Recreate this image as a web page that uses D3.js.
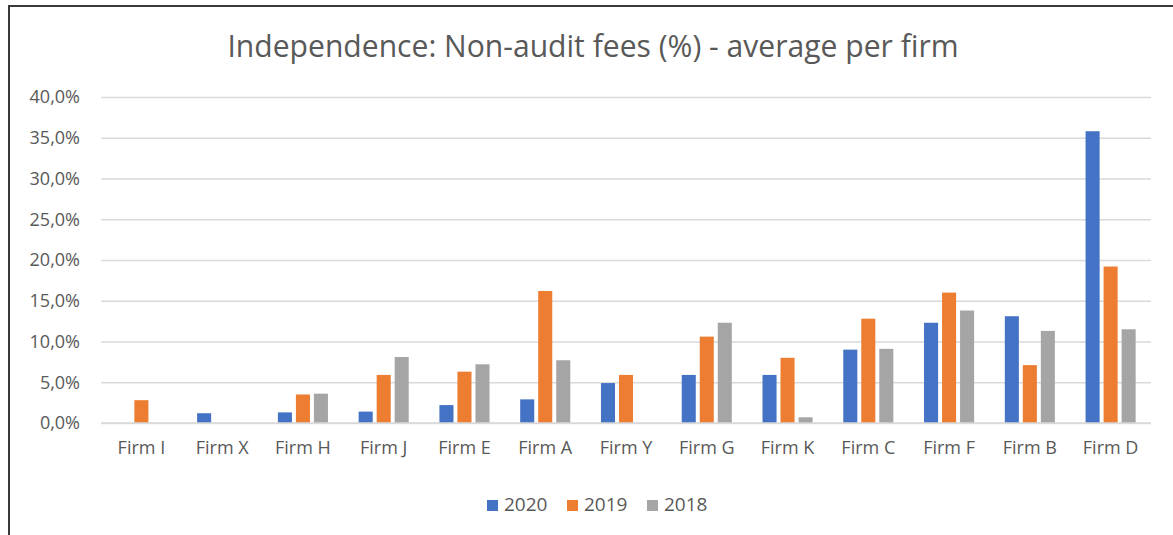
<!DOCTYPE html>
<html>
<head>
<meta charset="utf-8">
<script src="https://cdn.jsdelivr.net/npm/d3@7"></script>
<style>
  body { margin: 0; background: #fff; }
  svg { display: block; }
</style>
</head>
<body>
<div id="chart"></div>
<script>
const firms = ['Firm I', 'Firm X', 'Firm H', 'Firm J', 'Firm E', 'Firm A', 'Firm Y',
               'Firm G', 'Firm K', 'Firm C', 'Firm F', 'Firm B', 'Firm D'];
const years = ['2020', '2019', '2018'];
const fees2020 = [null, 1.2, 1.3, 1.4, 2.2, 2.9, 4.9, 5.9, 5.9, 9.0, 12.3, 13.1, 35.8];
const fees2019 = [2.8, null, 3.5, 5.9, 6.3, 16.2, 5.9, 10.6, 8.0, 12.8, 16.0, 7.1, 19.2];
const fees2018 = [null, null, 3.6, 8.1, 7.2, 7.7, null, 12.3, 0.7, 9.1, 13.8, 11.3, 11.5];
const yTicks = [0, 5, 10, 15, 20, 25, 30, 35, 40];
const colors = ['#4472C4', '#ED7D31', '#A5A5A5'];

const series = [fees2020, fees2019, fees2018];

const width = 1173,
    height = 535,
    margin = {left: 101, top: 97, right: 22, bottom: 112},
    font = '"Open Sans", sans-serif',
    textColor = '#595959';

const svg = d3.select('#chart').append('svg')
    .attr('width', width)
    .attr('height', height)
    .style('font-family', font);

// frame (only top and left edges are visible in the original)
svg.append('path')
    .attr('d', `M9,${height} V6 H${width}`)
    .attr('fill', 'none')
    .attr('stroke', '#3a3a3a')
    .attr('stroke-width', 2);

const x0 = d3.scaleBand()
    .domain(firms)
    .range([margin.left, width - margin.right])
    .paddingInner(0.38)
    .paddingOuter(0.19);

const x1 = d3.scaleBand()
    .domain(years)
    .range([0, x0.bandwidth()])
    .paddingInner(0.22);

const y = d3.scaleLinear()
    .domain([0, 40])
    .range([height - margin.bottom, margin.top]);

// gridlines + y labels
const yAxis = svg.append('g')
    .attr('transform', `translate(${margin.left}, 0)`)
    .call(d3.axisLeft(y)
        .tickValues(yTicks)
        .tickSize(-(width - margin.left - margin.right))
        .tickPadding(21)
        .tickFormat(d => d.toFixed(1).replace('.', ',') + '%'));
yAxis.select('.domain').remove();
yAxis.selectAll('line').attr('stroke', '#d9d9d9').attr('stroke-width', 1.5);
yAxis.selectAll('text')
    .attr('fill', textColor)
    .style('font-size', '18px')
    .style('font-family', font);

// bars
const groups = svg.append('g')
    .selectAll('g')
    .data(firms)
    .join('g')
    .attr('transform', d => `translate(${x0(d)}, 0)`);

groups.selectAll('rect')
    .data((d, i) => years.map((yr, k) => ({year: yr, value: series[k][i], k})))
    .join('rect')
    .filter(d => d.value !== null)
    .attr('x', d => x1(d.year))
    .attr('y', d => y(d.value))
    .attr('width', x1.bandwidth())
    .attr('height', d => y(0) - y(d.value))
    .attr('fill', d => colors[d.k]);

// x labels
const xAxis = svg.append('g')
    .attr('transform', `translate(0, ${y(0)})`)
    .call(d3.axisBottom(x0).tickSize(0).tickPadding(18));
xAxis.select('.domain').attr('stroke', '#d9d9d9').attr('stroke-width', 1.5)
    .attr('d', `M${margin.left},0H${width - margin.right}`);
xAxis.selectAll('text')
    .attr('fill', textColor)
    .style('font-size', '18px')
    .style('font-family', font);

// title, fitted to the width it has in the original
const title = svg.append('text')
    .attr('x', 593)
    .attr('y', 57)
    .attr('text-anchor', 'middle')
    .attr('fill', textColor)
    .style('font-size', '27px')
    .text('Independence: Non-audit fees (%) - average per firm');
const tw = title.node().getComputedTextLength();
title.style('font-size', (27 * 731 / tw).toFixed(2) + 'px');

// legend
const legend = svg.append('g')
    .attr('transform', 'translate(487, 500)')
    .selectAll('g')
    .data(years)
    .join('g')
    .attr('transform', (d, i) => `translate(${i * 80}, 0)`);

legend.append('rect')
    .attr('width', 11)
    .attr('height', 11)
    .attr('fill', (d, i) => colors[i]);

legend.append('text')
    .attr('x', 17)
    .attr('y', 11)
    .attr('fill', textColor)
    .style('font-size', '19px')
    .text(d => d);
</script>
</body>
</html>
